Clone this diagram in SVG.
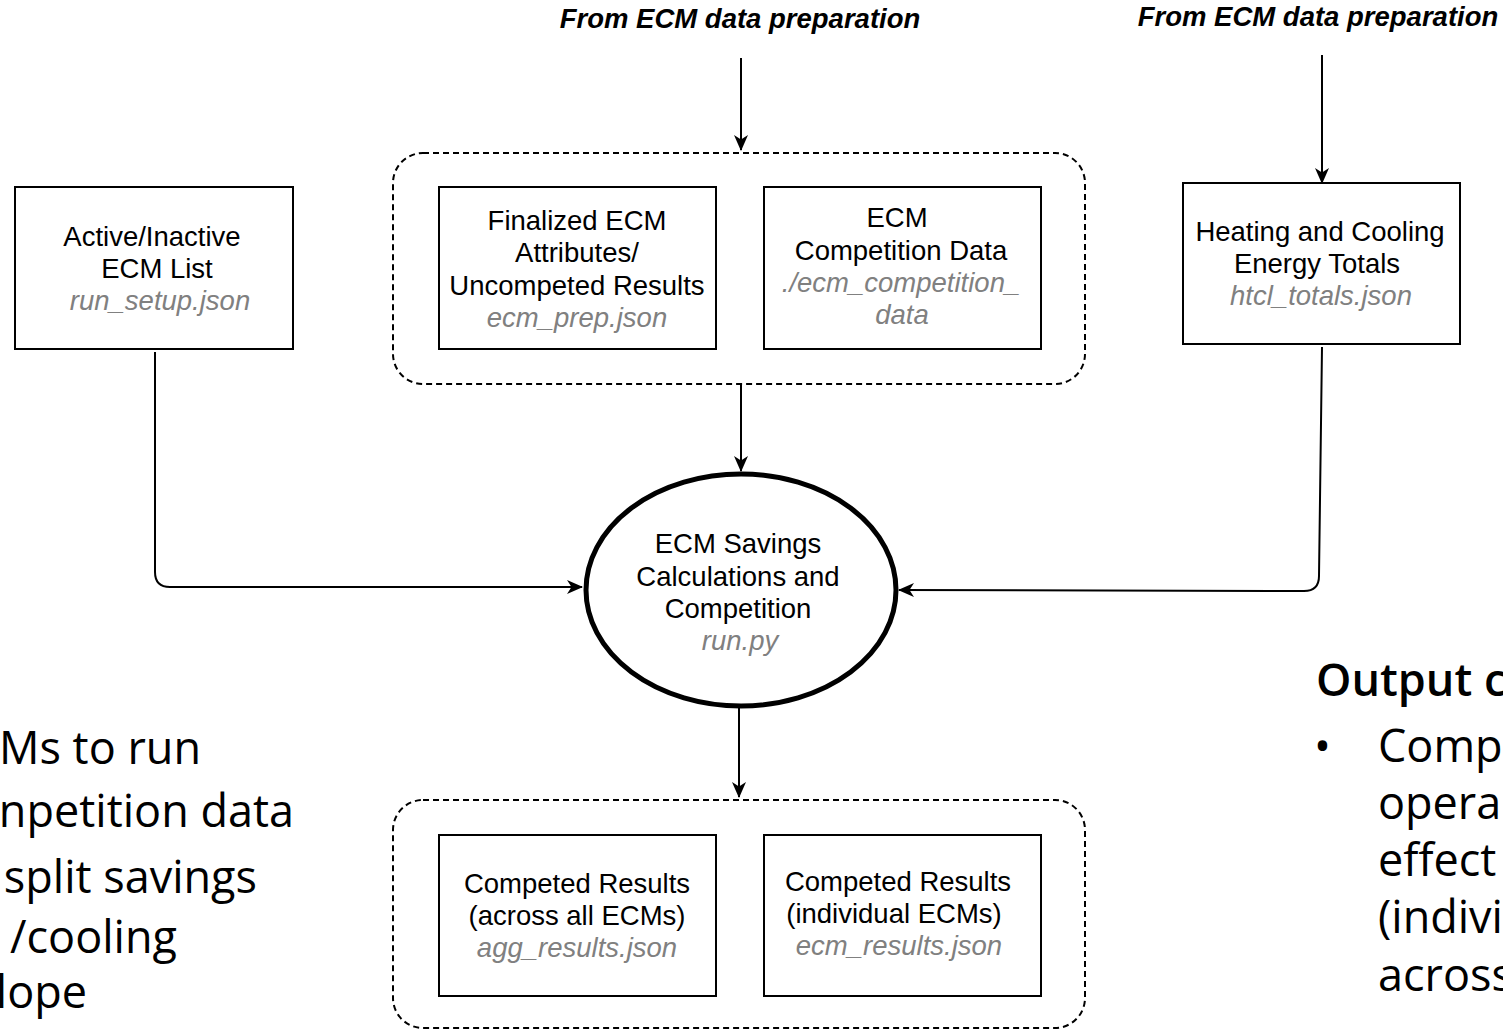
<svg xmlns="http://www.w3.org/2000/svg" width="1503" height="1030" viewBox="0 0 1503 1030">
  <style>
    .box { fill: #ffffff; stroke: #000000; stroke-width: 2; }
    .group { fill: none; stroke: #000000; stroke-width: 2; stroke-dasharray: 6 4; }
    .edge { fill: none; stroke: #000000; stroke-width: 2; }
    .t { font-family: "Liberation Sans", Arial, sans-serif; font-size: 27.5px; fill: #000000; text-anchor: middle; }
    .f { font-family: "Liberation Sans", Arial, sans-serif; font-size: 27.5px; font-style: italic; fill: #808080; text-anchor: middle; }
    .src { font-family: "Liberation Sans", Arial, sans-serif; font-size: 27.5px; font-weight: bold; font-style: italic; fill: #000000; text-anchor: middle; }
    .big { font-family: "Open Sans", "Liberation Sans", sans-serif; font-size: 45px; fill: #000000; }
  </style>
  <defs>
    <marker id="arrow" viewBox="0 0 16 14" refX="15" refY="7" markerWidth="16" markerHeight="14" markerUnits="userSpaceOnUse" orient="auto">
      <path d="M0,0 L16,7 L0,14 L4.5,7 Z" fill="#000000"/>
    </marker>
  </defs>

  <rect width="1503" height="1030" fill="#ffffff"/>

  <!-- source labels -->
  <text class="src" x="740" y="28">From ECM data preparation</text>
  <text class="src" x="1318" y="26">From ECM data preparation</text>

  <!-- dashed containers -->
  <rect class="group" x="393" y="153" width="692" height="231" rx="30" ry="30"/>
  <rect class="group" x="393" y="800" width="692" height="228" rx="30" ry="30"/>

  <!-- connectors -->
  <g id="connectors">
    <path class="edge" d="M741,58 L741,150" marker-end="url(#arrow)"/>
    <path class="edge" d="M1322,55 L1322,183" marker-end="url(#arrow)"/>
    <path class="edge" d="M741,384 L741,471" marker-end="url(#arrow)"/>
    <path class="edge" d="M155,352 L155,572 Q155,587 170,587 L582,587" marker-end="url(#arrow)"/>
    <path class="edge" d="M1322,347 L1319,576 Q1319,591 1304,591 L899,590" marker-end="url(#arrow)"/>
    <path class="edge" d="M739,708 L739,797" marker-end="url(#arrow)"/>
  </g>

  <!-- nodes -->
  <g id="active-list">
    <rect class="box" x="15" y="187" width="278" height="162"/>
    <text class="t" x="152" y="246">Active/Inactive</text>
    <text class="t" x="157" y="278">ECM List</text>
    <text class="f" x="160" y="310">run_setup.json</text>
  </g>

  <g id="ecm-prep">
    <rect class="box" x="439" y="187" width="277" height="162"/>
    <text class="t" x="577" y="230">Finalized ECM</text>
    <text class="t" x="577" y="262">Attributes/</text>
    <text class="t" x="577" y="295">Uncompeted Results</text>
    <text class="f" x="577" y="327">ecm_prep.json</text>
  </g>

  <g id="competition-data">
    <rect class="box" x="764" y="187" width="277" height="162"/>
    <text class="t" x="897" y="227">ECM</text>
    <text class="t" x="901" y="260">Competition Data</text>
    <text class="f" x="901" y="292">./ecm_competition_</text>
    <text class="f" x="902" y="324">data</text>
  </g>

  <g id="htcl-totals">
    <rect class="box" x="1183" y="183" width="277" height="161"/>
    <text class="t" x="1320" y="241">Heating and Cooling</text>
    <text class="t" x="1317" y="273">Energy Totals</text>
    <text class="f" x="1321" y="305">htcl_totals.json</text>
  </g>

  <g id="run">
    <ellipse cx="741" cy="590" rx="155" ry="116" fill="#ffffff" stroke="#000000" stroke-width="5"/>
    <text class="t" x="738" y="553">ECM Savings</text>
    <text class="t" x="738" y="586">Calculations and</text>
    <text class="t" x="738" y="618">Competition</text>
    <text class="f" x="740" y="650">run.py</text>
  </g>

  <g id="agg-results">
    <rect class="box" x="439" y="835" width="277" height="161"/>
    <text class="t" x="577" y="893">Competed Results</text>
    <text class="t" x="577" y="925">(across all ECMs)</text>
    <text class="f" x="577" y="957">agg_results.json</text>
  </g>

  <g id="ecm-results">
    <rect class="box" x="764" y="835" width="277" height="161"/>
    <text class="t" x="898" y="891">Competed Results</text>
    <text class="t" x="894" y="923">(individual ECMs)</text>
    <text class="f" x="899" y="955">ecm_results.json</text>
  </g>

  <!-- side notes, running off the page edges -->
  <g id="left-notes">
    <text class="big" x="201" y="764" text-anchor="end">Ms to run</text>
    <text class="big" x="294" y="827" text-anchor="end">npetition data</text>
    <text class="big" x="257" y="893" text-anchor="end">split savings</text>
    <text class="big" x="177" y="953" text-anchor="end">/cooling</text>
    <text class="big" x="87" y="1008" text-anchor="end">lope</text>
  </g>

  <g id="right-notes">
    <text class="big" x="1316" y="696" font-weight="600" font-size="42">Output c</text>
    <text class="big" x="1314" y="762">•</text>
    <text class="big" x="1378" y="762">Comp</text>
    <text class="big" x="1378" y="819">opera</text>
    <text class="big" x="1378" y="876">effect</text>
    <text class="big" x="1378" y="933">(indivi</text>
    <text class="big" x="1378" y="991">across</text>
  </g>
</svg>
